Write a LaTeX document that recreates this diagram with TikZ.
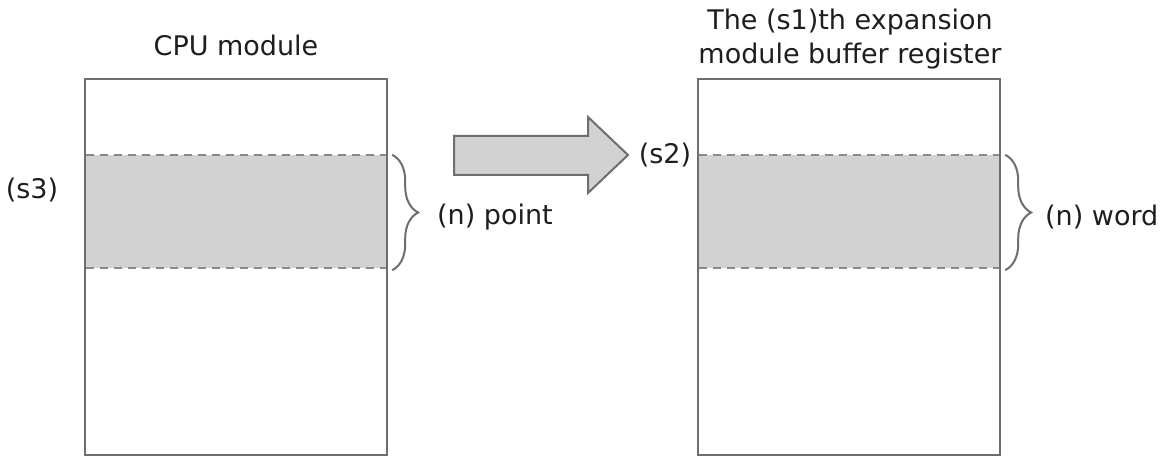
\documentclass[tikz,border=0pt]{standalone}
\usepackage{fontspec}
\setmainfont{DejaVu Sans}
\usetikzlibrary{decorations.pathreplacing}
\definecolor{inkgray}{HTML}{1E1E1E}
\definecolor{framegray}{HTML}{6E6E6E}
\definecolor{bandgray}{HTML}{D2D2D2}
\definecolor{dashgray}{HTML}{8A8A8A}
\tikzset{
  memblock/.style={draw=framegray, line width=2pt, fill=white, minimum width=302pt, minimum height=376pt, inner sep=0pt},
  band/.style={fill=bandgray, minimum width=300pt, minimum height=113pt, inner sep=0pt},
  bandedge/.style={draw=dashgray, line width=2pt, dash pattern=on 8pt off 6pt},
  label/.style={text=inkgray, font=\fontsize{27}{34}\selectfont, inner sep=0pt},
  curly/.style={draw=framegray, line width=2pt, decorate, decoration={brace, amplitude=26pt, aspect=0.5}},
  bigarrow/.style={draw=framegray, line width=2pt, fill=bandgray, line join=miter}
}
\begin{document}
\begin{tikzpicture}[x=1pt, y=-1pt]
  \useasboundingbox[fill=white] (0,0) rectangle (1168,457);

  % CPU module memory
  \node[memblock] (cpu) at (236,267) {};
  \node[band] (cpuband) at (236,211.5) {};
  \draw[bandedge] (cpuband.north west) -- (cpuband.north east);
  \draw[bandedge] (cpuband.south west) -- (cpuband.south east);
  \node[label] (cputitle) at (236,45) {CPU module};
  \node[label] (s3) at (32,190) {(s3)};

  % buffer register of the expansion module
  \node[memblock] (buf) at (849,267) {};
  \node[band] (bufband) at (849,211.5) {};
  \draw[bandedge] (bufband.north west) -- (bufband.north east);
  \draw[bandedge] (bufband.south west) -- (bufband.south east);
  \node[label, align=center] (buftitle) at (850,39) {The (s1)th expansion\\module buffer register};
  \node[label] (s2) at (665,155) {(s2)};

  % transfer arrow
  \draw[bigarrow] (454,136) -- (588,136) -- (588,117) -- (628,155) -- (588,193) -- (588,175) -- (454,175) -- cycle;

  % size braces
  \coordinate (lbt) at ([xshift=6pt]cpuband.north east);
  \coordinate (lbb) at ([xshift=6pt, yshift=-2pt]cpuband.south east);
  \draw[curly] (lbt) -- (lbb);
  \node[label, anchor=west] (npoint) at (437,217) {(n) point};

  \coordinate (rbt) at ([xshift=6pt]bufband.north east);
  \coordinate (rbb) at ([xshift=6pt, yshift=-2pt]bufband.south east);
  \draw[curly] (rbt) -- (rbb);
  \node[label, anchor=west] (nword) at (1045,217) {(n) word};
\end{tikzpicture}
\end{document}
